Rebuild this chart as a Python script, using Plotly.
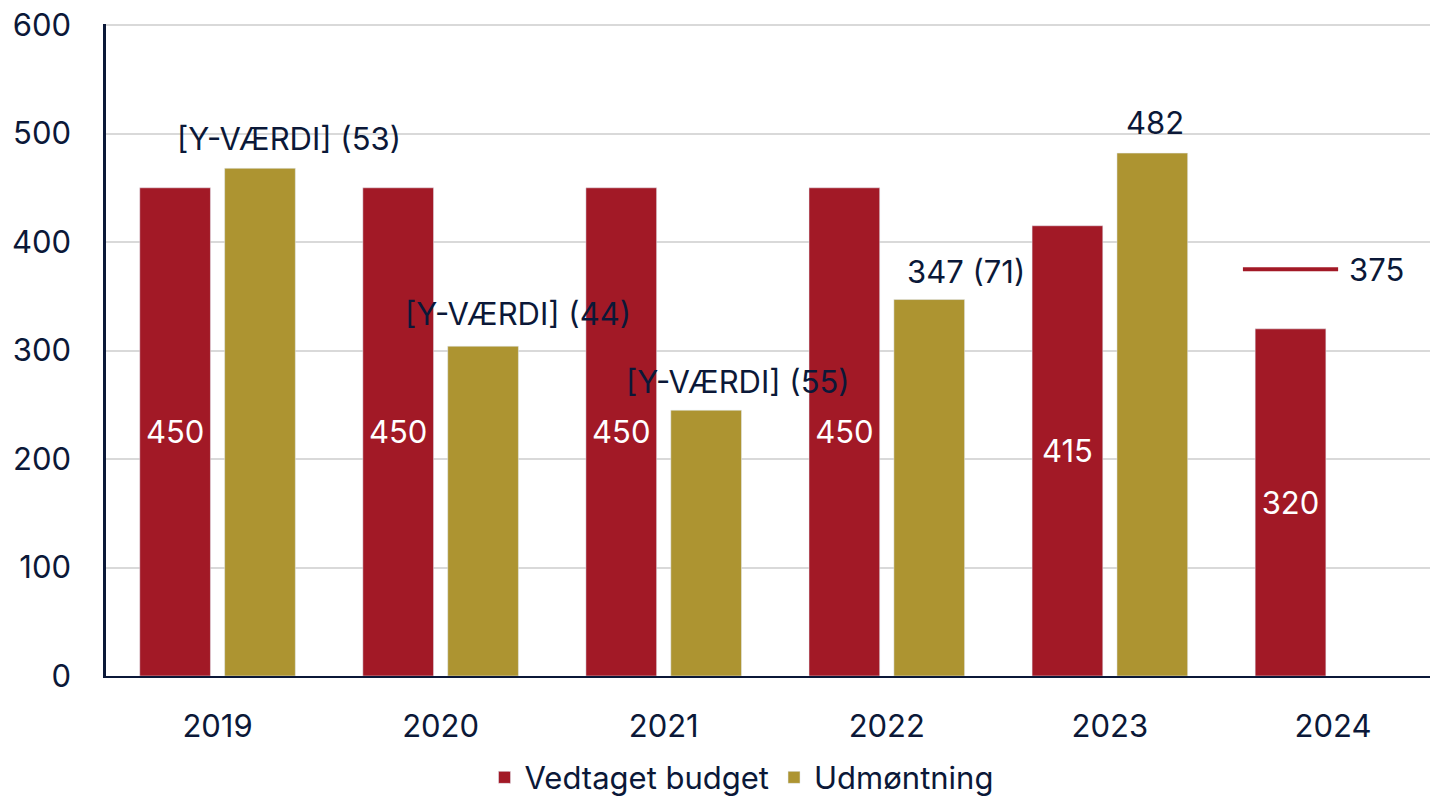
import plotly.graph_objects as go

# ---- data ----
years = ["2019", "2020", "2021", "2022", "2023", "2024"]
budget = [450, 450, 450, 450, 415, 320]
udmoentning = [468, 304, 245, 347, 482, None]
udm_labels = ["[Y-VÆRDI] (53)", "[Y-VÆRDI] (44)", "[Y-VÆRDI] (55)", "347 (71)", "482", None]
marker_years = ["2024"]
marker_values = [375]
y_ticks = [0, 100, 200, 300, 400, 500, 600]

# ---- style ----
RED = "#A21926"
GOLD = "#AD9431"
NAVY = "#0B1838"
GRID = "#D9D9D9"
FONT = "Inter"
FS = 31
label_dx = [71, 77, 74, 79, 45]   # px offset of gold labels from category centre
label_dy = [30, 33, 29, 28, 31]   # px above the bar top

fig = go.Figure()
fig.add_trace(go.Bar(
    x=years, y=budget, name="Vedtaget budget", marker_color=RED,
    offsetgroup="a", alignmentgroup="g",
    text=[str(v) for v in budget], textposition="inside",
    insidetextanchor="middle", textangle=0,
    textfont=dict(color="white", size=FS, family=FONT),
    hoverinfo="skip",
))
fig.add_trace(go.Bar(
    x=years, y=udmoentning, name="Udmøntning", marker_color=GOLD,
    offsetgroup="b", alignmentgroup="g",
    hoverinfo="skip",
))
fig.add_trace(go.Scatter(
    x=marker_years, y=marker_values, mode="markers", showlegend=False,
    offsetgroup="a", alignmentgroup="g",
    marker=dict(symbol="line-ew", size=68, line=dict(color=RED, width=4)),
    hoverinfo="skip",
))

annotations = []
for i, (v, t) in enumerate(zip(udmoentning, udm_labels)):
    if v is None or t is None:
        continue
    annotations.append(dict(
        x=i, y=v, xref="x", yref="y", text=t, showarrow=False,
        xshift=label_dx[i], yshift=label_dy[i], yanchor="middle",
        font=dict(color=NAVY, size=FS, family=FONT),
    ))
for yr, v in zip(marker_years, marker_values):
    annotations.append(dict(
        x=years.index(yr), y=v, xref="x", yref="y", text=str(v), showarrow=False,
        xshift=44, yanchor="middle",
        font=dict(color=NAVY, size=FS, family=FONT),
    ))

fig.update_layout(
    width=1430, height=796,
    margin=dict(l=106, r=0, t=24, b=120, autoexpand=False),
    paper_bgcolor="white", plot_bgcolor="white",
    barmode="group", bargap=0.239, bargroupgap=0.167,
    scattermode="group",
    font=dict(family=FONT, size=FS, color=NAVY),
    showlegend=True,
    legend=dict(
        orientation="h",
        x=0.48, xanchor="center", y=-0.156, yanchor="middle",
        font=dict(size=FS, color=NAVY, family=FONT),
        itemwidth=30, bgcolor="rgba(0,0,0,0)",
    ),
    annotations=annotations,
)
fig.update_xaxes(
    type="category", range=[-0.5, 5.435], automargin=False,
    showline=True, linecolor=NAVY, linewidth=2,
    showgrid=False, ticks="", ticklabelstandoff=22,
    tickfont=dict(size=FS, color=NAVY, family=FONT),
)
fig.update_yaxes(
    range=[0, 601], tickvals=y_ticks, automargin=False,
    showline=True, linecolor=NAVY, linewidth=2.5,
    showgrid=True, gridcolor=GRID, gridwidth=2,
    zeroline=False, ticks="", ticklabelstandoff=26,
    tickfont=dict(size=FS, color=NAVY, family=FONT),
)

fig.write_html(
    "out.html",
    config={"displayModeBar": False},
    post_script="document.body.style.margin='0';document.body.style.overflow='hidden';",
)
